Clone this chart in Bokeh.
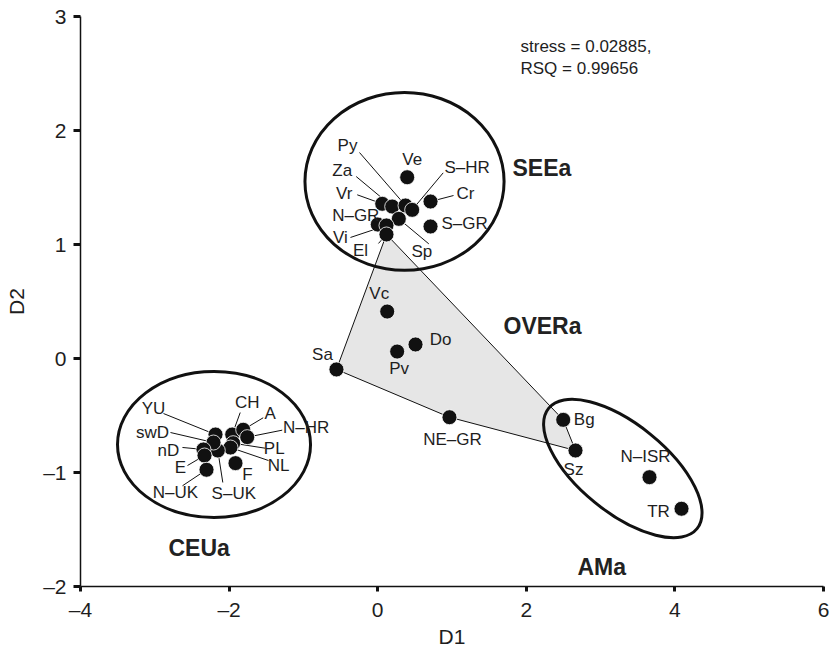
import math
from bokeh.plotting import figure
from bokeh.models import Range1d, FixedTicker
from bokeh.embed import file_html
from bokeh.resources import INLINE
from bokeh.core.properties import value

# ---------------- data ----------------
names = ["Ve", "Cr", "S\u2013GR", "Vr", "Za", "Py", "S\u2013HR", "Sp", "N\u2013GR", "Vi", "El",
         "Vc", "Do", "Pv", "Sa", "NE\u2013GR",
         "Bg", "Sz", "N\u2013ISR", "TR",
         "YU", "CH", "A", "N\u2013HR", "PL", "NL", "S\u2013UK", "swD", "nD", "E", "N\u2013UK", "F"]
d1 = [0.397, 0.711, 0.711, 0.061, 0.195, 0.374, 0.464, 0.284, 0.001, 0.118, 0.118,
      0.128, 0.509, 0.262, -0.555, 0.966,
      2.497, 2.662, 3.658, 4.089,
      -2.183, -1.958, -1.810, -1.756, -1.945, -1.981, -2.152, -2.210, -2.345, -2.331, -2.304, -1.914]
d2 = [1.590, 1.377, 1.158, 1.357, 1.333, 1.342, 1.304, 1.225, 1.175, 1.167, 1.088,
      0.412, 0.123, 0.061, -0.096, -0.515,
      -0.538, -0.807, -1.041, -1.318,
      -0.667, -0.667, -0.625, -0.690, -0.743, -0.781, -0.807, -0.737, -0.798, -0.851, -0.976, -0.918]

hull_order = ["El", "Bg", "Sz", "NE\u2013GR", "Sa"]

groups = ["SEEa", "CEUa", "AMa"]
group_cx = [0.361, -2.203, 3.299]
group_cy = [1.553, -0.754, -0.965]
group_w = [2.68, 2.598, 2.571]
group_h = [1.561, 1.281, 0.772]
group_angle_deg = [0, 0, -39]

stress_text = "stress = 0.02885,"
rsq_text = "RSQ = 0.99656"

x_ticks = [-4, -2, 0, 2, 4, 6]
y_ticks = [-2, -1, 0, 1, 2, 3]
x_label = "D1"
y_label = "D2"

# ---------------- layout (pixel offsets) ----------------
label_off = {
    "Ve": (5, -18), "Cr": (35, -8), "S\u2013GR": (34, -3), "Vr": (-38, -10), "Za": (-50, -36),
    "Py": (-58, -60), "S\u2013HR": (55, -42), "Sp": (23, 33), "N\u2013GR": (-22, -9),
    "Vi": (-46, 12), "El": (-26, 16),
    "Vc": (-8, -18), "Do": (25, -5), "Pv": (2, 17), "Sa": (-14, -15), "NE\u2013GR": (3, 22),
    "Bg": (21, 0), "Sz": (-2, 19), "N\u2013ISR": (-4, -21), "TR": (-23, 3),
    "YU": (-62, -26), "CH": (15, -32), "A": (27, -16), "N\u2013HR": (59, -10), "PL": (41, 5),
    "NL": (48, 18), "S\u2013UK": (16, 43), "swD": (-61, -10), "nD": (-35, 1), "E": (-24, 12),
    "N\u2013UK": (-31, 23), "F": (12, 11),
}
leader_off = {
    "Py": (-46, -53), "Za": (-36, -30), "Vr": (-25, -9), "Vi": (-36, 12), "El": (-8, 9),
    "Sp": (30, 25), "S\u2013HR": (31, -37), "Cr": (23, -6),
    "YU": (-52, -21), "CH": (8, -22), "A": (20, -12), "N\u2013HR": (35, -7), "swD": (-43, -10),
    "nD": (-21, -2), "PL": (32, 5), "E": (-17, 10), "NL": (38, 13), "N\u2013UK": (-24, 16),
    "S\u2013UK": (5, 32),
}

FW, FH = 743, 570
BL, BR, BT, BB = 80, 8, 16, 60
XR = (-4, 6)
YR = (-2, 3)
sx = FW / (XR[1] - XR[0])
sy = FH / (YR[1] - YR[0])

FONT = value("Liberation Sans")
TXT = "#1e1e1e"

p = figure(frame_width=FW, frame_height=FH, output_backend="svg", toolbar_location=None,
           x_range=Range1d(*XR), y_range=Range1d(*YR),
           min_border_left=BL, min_border_right=BR, min_border_top=BT, min_border_bottom=BB)
p.outline_line_color = None
p.grid.visible = False
p.background_fill_color = "white"
p.border_fill_color = "white"

idx = {n: i for i, n in enumerate(names)}

# convex hull of OVERa
hx = [d1[idx[n]] for n in hull_order]
hy = [d2[idx[n]] for n in hull_order]
p.patch(hx, hy, fill_color="#e6e6e6", line_color="#111111", line_width=1)

# group ellipses
p.ellipse(x=group_cx, y=group_cy, width=group_w, height=group_h,
          angle=[math.radians(a) for a in group_angle_deg],
          fill_color=None, line_color="#111111", line_width=3)

# leader lines
lx0, ly0, lx1, ly1 = [], [], [], []
for n, (ox, oy) in leader_off.items():
    i = idx[n]
    lx0.append(d1[i] + ox / sx)
    ly0.append(d2[i] - oy / sy)
    lx1.append(d1[i])
    ly1.append(d2[i])
p.segment(lx0, ly0, lx1, ly1, line_color="#111111", line_width=1)

# points
p.scatter(d1, d2, size=15, fill_color="#111111", line_color="white", line_width=0.8)

# point labels
p.text(x=d1, y=d2, text=names,
       x_offset=[label_off[n][0] for n in names], y_offset=[label_off[n][1] for n in names],
       text_align="center", text_baseline="middle", text_font=FONT,
       text_font_size="17px", text_color=TXT)

# group labels
gl_text = ["SEEa", "OVERa", "CEUa", "AMa"]
gl_x = [1.814, 1.693, -2.816, 2.689]
gl_y = [1.675, 0.289, -1.658, -1.831]
p.text(x=gl_x, y=gl_y, text=gl_text, text_align="left", text_baseline="middle",
       text_font=FONT, text_font_size="23px", text_font_style="bold", text_color="#222222")

# stress annotation
p.text(x=[1.922, 1.922], y=[2.739, 2.546], text=[stress_text, rsq_text],
       text_align="left", text_baseline="middle", text_font=FONT,
       text_font_size="17px", text_color=TXT)

# axes
for ax in (p.xaxis[0], p.yaxis[0]):
    ax.axis_line_color = "#111111"
    ax.axis_line_width = 1.5
    ax.major_tick_line_color = "#111111"
    ax.major_tick_line_width = 3
    ax.major_tick_in = 0
    ax.minor_tick_line_color = None
    ax.major_label_text_font = "Liberation Sans"
    ax.major_label_text_font_size = "21px"
    ax.major_label_text_color = TXT
    ax.axis_label_text_font = "Liberation Sans"
    ax.axis_label_text_font_size = "21px"
    ax.axis_label_text_font_style = "normal"
    ax.axis_label_text_color = TXT

p.xaxis[0].ticker = FixedTicker(ticks=x_ticks, minor_ticks=[])
p.yaxis[0].ticker = FixedTicker(ticks=y_ticks, minor_ticks=[])
p.xaxis[0].major_label_overrides = {t: str(t).replace("-", "\u2013") for t in x_ticks}
p.yaxis[0].major_label_overrides = {t: str(t).replace("-", "\u2013") for t in y_ticks}
p.xaxis[0].major_tick_out = 5
p.yaxis[0].major_tick_out = 7
p.xaxis[0].major_label_standoff = 6
p.yaxis[0].major_label_standoff = 7
p.xaxis[0].axis_label = x_label
p.xaxis[0].axis_label_standoff = 1
p.yaxis[0].axis_label = y_label
p.yaxis[0].axis_label_standoff = 12

open("out.html", "w").write(file_html(p, INLINE))
